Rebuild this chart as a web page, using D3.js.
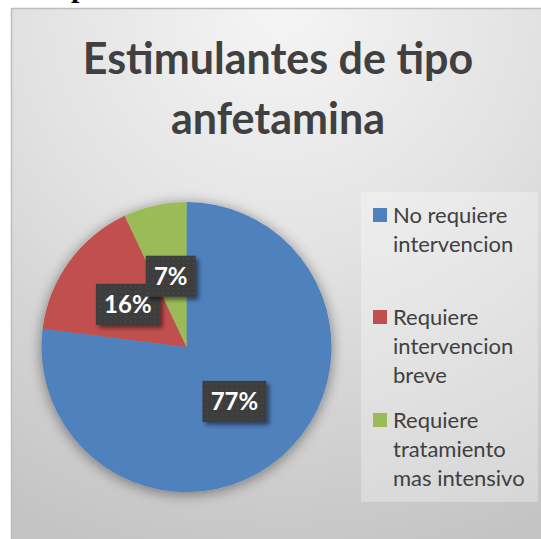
<!DOCTYPE html>
<html>
<head>
<meta charset="utf-8">
<script src="https://cdn.jsdelivr.net/npm/d3@7"></script>
<style>
  body { margin: 0; background: #fff; }
  svg { display: block; }
</style>
</head>
<body>
<svg id="chart"></svg>
<script>
// chart data
var categories = ["No requiere intervencion", "Requiere intervencion breve", "Requiere tratamiento mas intensivo"];
var values = [77, 16, 7];
var legendLines = [["No requiere", "intervencion"], ["Requiere", "intervencion", "breve"], ["Requiere", "tratamiento", "mas intensivo"]];
var colors = ["#4f81bd", "#c0504d", "#9bbb59"];
var titleLines = ["Estimulantes de tipo", "anfetamina"];

var W = 541, H = 539;
var svg = d3.select("#chart").attr("width", W).attr("height", H);
var defs = svg.append("defs");

// background gradient of the chart area
var bg = defs.append("radialGradient").attr("id", "bg")
  .attr("cx", "50%").attr("cy", "0%").attr("r", "105%");
bg.append("stop").attr("offset", "0%").attr("stop-color", "#f5f5f5");
bg.append("stop").attr("offset", "45%").attr("stop-color", "#e2e2e2");
bg.append("stop").attr("offset", "100%").attr("stop-color", "#c4c4c4");

var shadow = defs.append("filter").attr("id", "pieShadow")
  .attr("x", "-30%").attr("y", "-30%").attr("width", "160%").attr("height", "160%");
shadow.append("feGaussianBlur").attr("in", "SourceAlpha").attr("stdDeviation", 7).attr("result", "b");
shadow.append("feOffset").attr("in", "b").attr("dx", 0).attr("dy", 2).attr("result", "o");
shadow.append("feComponentTransfer").attr("in", "o").attr("result", "s")
  .append("feFuncA").attr("type", "linear").attr("slope", 0.45);
var m1 = shadow.append("feMerge");
m1.append("feMergeNode").attr("in", "s");
m1.append("feMergeNode").attr("in", "SourceGraphic");

var boxShadow = defs.append("filter").attr("id", "boxShadow")
  .attr("x", "-30%").attr("y", "-30%").attr("width", "160%").attr("height", "160%");
boxShadow.append("feGaussianBlur").attr("in", "SourceAlpha").attr("stdDeviation", 2).attr("result", "b");
boxShadow.append("feOffset").attr("in", "b").attr("dx", 3).attr("dy", 3).attr("result", "o");
boxShadow.append("feComponentTransfer").attr("in", "o").attr("result", "s")
  .append("feFuncA").attr("type", "linear").attr("slope", 0.5);
var m2 = boxShadow.append("feMerge");
m2.append("feMergeNode").attr("in", "s");
m2.append("feMergeNode").attr("in", "SourceGraphic");

var dots = defs.append("pattern").attr("id", "dots")
  .attr("width", 5).attr("height", 5).attr("patternUnits", "userSpaceOnUse");
dots.append("rect").attr("width", 5).attr("height", 5).attr("fill", "#3c3c3c");
dots.append("rect").attr("x", 2).attr("y", 2).attr("width", 1).attr("height", 1).attr("fill", "#5a5a5a");

// clipped text from above the chart (only its descender shows)
svg.append("text").attr("x", 71).attr("y", -3)
  .style("font-family", "Liberation Serif").style("font-size", "30px").style("font-weight", "bold")
  .attr("fill", "#000").text("p");

// chart area
svg.append("rect").attr("x", 11.5).attr("y", 8.5).attr("width", W).attr("height", H)
  .attr("fill", "url(#bg)").attr("stroke", "#bdbdbd").attr("stroke-width", 1.5);

// title
svg.append("g").selectAll("text").data(titleLines).enter().append("text")
  .attr("x", 278).attr("y", function (d, i) { return 74 + i * 60; })
  .attr("text-anchor", "middle")
  .style("font-family", "Lato").style("font-weight", "bold").style("font-size", "43px")
  .attr("fill", "#404040")
  .text(function (d) { return d; });

// pie
var cx = 186.5, cy = 347, R = 145;
var pie = d3.pie().sort(null).value(function (d) { return d; });
var arcs = pie(values);
var arc = d3.arc().innerRadius(0).outerRadius(R);
var labelArc = d3.arc().innerRadius(R * 0.5).outerRadius(R * 0.5);

var g = svg.append("g").attr("transform", "translate(" + cx + "," + cy + ")");
g.append("g").attr("filter", "url(#pieShadow)")
  .selectAll("path").data(arcs).enter().append("path")
  .attr("d", arc)
  .attr("fill", function (d, i) { return colors[i]; });

var lab = g.selectAll(".lab").data(arcs).enter().append("g").attr("class", "lab")
  .attr("transform", function (d) { return "translate(" + labelArc.centroid(d) + ")"; });
lab.append("rect")
  .attr("x", function (d) { return d.data < 10 ? -25 : -32; })
  .attr("y", -20.5)
  .attr("width", function (d) { return d.data < 10 ? 50 : 64; })
  .attr("height", 41)
  .attr("fill", "url(#dots)")
  .attr("filter", "url(#boxShadow)");
lab.append("text")
  .attr("text-anchor", "middle").attr("dy", "0.35em")
  .style("font-family", "Lato").style("font-weight", "bold").style("font-size", "24px")
  .attr("fill", "#fff")
  .text(function (d) { return d3.format(".0%")(d.data / d3.sum(values)); });

// legend
svg.append("rect").attr("x", 361).attr("y", 192).attr("width", 177).attr("height", 310)
  .attr("fill", "#ffffff").attr("fill-opacity", 0.3);
var legendTop = [208, 310, 413];
var leg = svg.selectAll(".leg").data(categories).enter().append("g").attr("class", "leg")
  .attr("transform", function (d, i) { return "translate(373," + legendTop[i] + ")"; });
leg.append("rect").attr("width", 14).attr("height", 14)
  .attr("fill", function (d, i) { return colors[i]; });
leg.append("text")
  .style("font-family", "Lato").style("font-size", "22px").attr("fill", "#404040")
  .each(function (d, i) {
    d3.select(this).selectAll("tspan").data(legendLines[i]).enter().append("tspan")
      .attr("x", 20).attr("y", function (t, j) { return 15 + j * 29; })
      .text(function (t) { return t; });
  });
</script>
</body>
</html>
